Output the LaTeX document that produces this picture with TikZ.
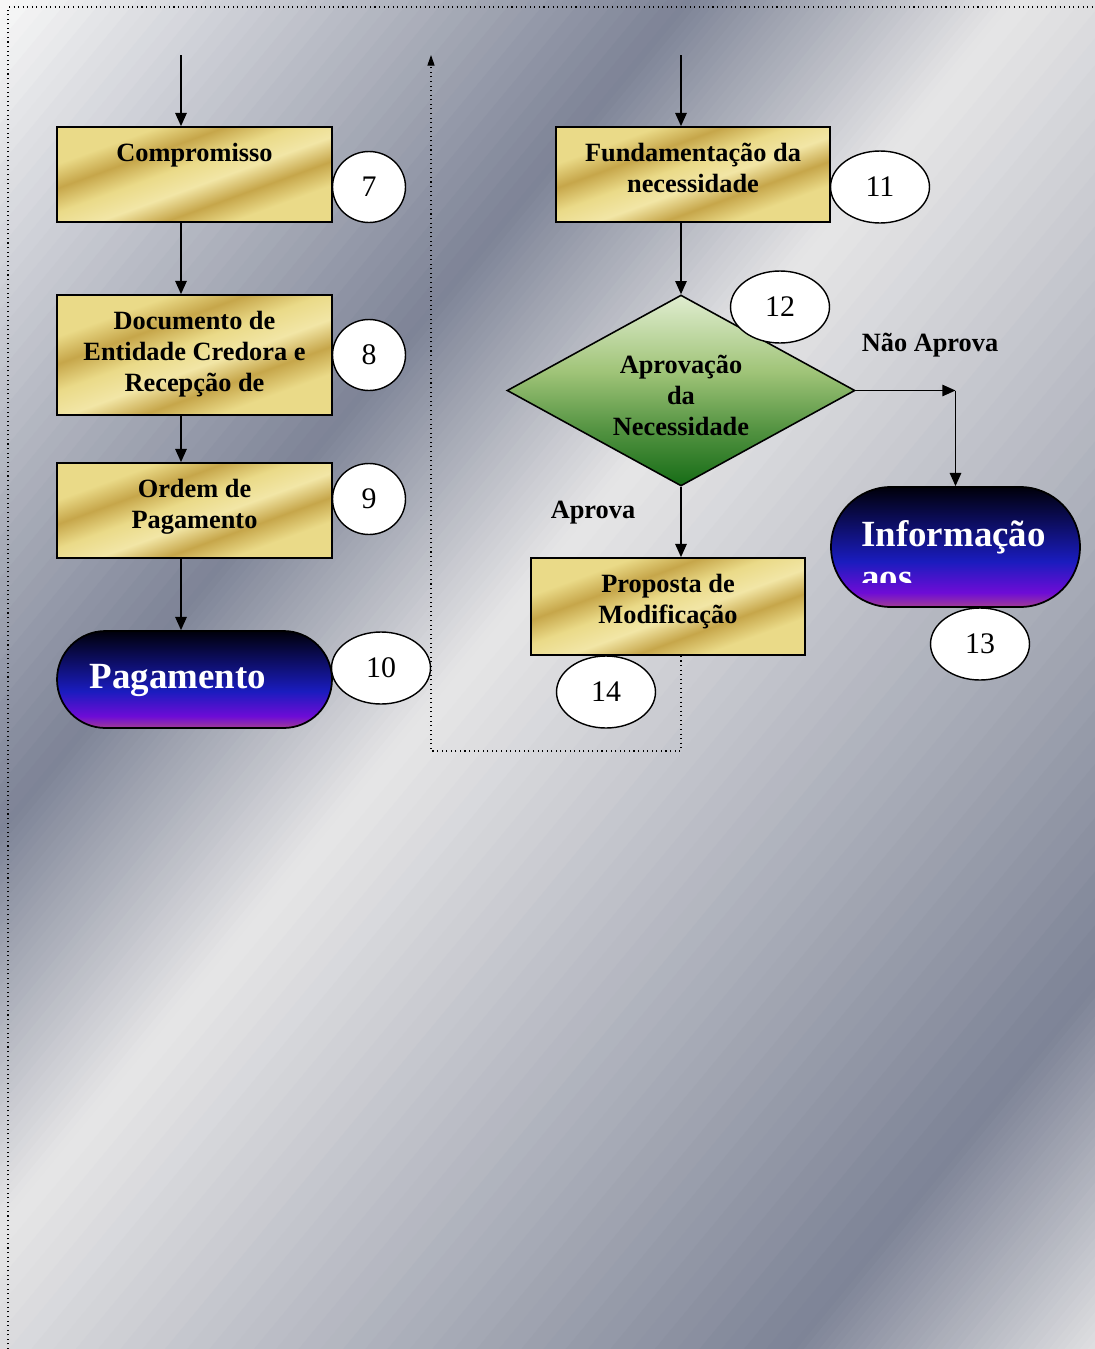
\documentclass[tikz,border=0pt]{standalone}
\usepackage{fontspec}
\setmainfont{Liberation Serif}
\usetikzlibrary{shapes.geometric,shapes.misc,arrows.meta,positioning}

\definecolor{bgwhite}{RGB}{248,248,248}
\definecolor{bgdark}{RGB}{125,131,150}
\definecolor{bglight}{RGB}{230,230,231}
\definecolor{bgend}{RGB}{224,224,226}
\definecolor{golddark}{RGB}{198,166,74}
\definecolor{goldlight}{RGB}{234,218,136}
\definecolor{goldpale}{RGB}{242,230,166}
\definecolor{navytop}{RGB}{0,0,10}
\definecolor{navymid}{RGB}{26,28,190}
\definecolor{navypurple}{RGB}{110,12,214}
\definecolor{navymag}{RGB}{160,60,150}
\definecolor{greenlight}{RGB}{224,237,208}
\definecolor{greenmid}{RGB}{160,196,120}
\definecolor{greendark}{RGB}{22,108,22}

\pgfdeclarehorizontalshading{goldbar}{100bp}{color(0bp)=(goldlight); color(30bp)=(goldlight);
  color(38bp)=(golddark); color(46bp)=(goldpale); color(54bp)=(goldlight);
  color(62bp)=(golddark); color(70bp)=(goldlight); color(100bp)=(goldlight)}
\pgfdeclareverticalshading{navyfill}{100bp}{color(0bp)=(navymag); color(25bp)=(navymag);
  color(31bp)=(navypurple); color(44bp)=(navymid); color(75bp)=(navytop); color(100bp)=(navytop)}
\pgfdeclareverticalshading{greenfill}{100bp}{color(0bp)=(greendark); color(25bp)=(greendark);
  color(40bp)=(greendark!55!greenmid); color(55bp)=(greenmid); color(75bp)=(greenlight);
  color(100bp)=(greenlight)}

\begin{document}
\begin{tikzpicture}[x=0.02cm, y=-0.02cm,
  goldbox/.style={draw=black, line width=1pt, shade, shading=goldbar, shading angle=110,
                  minimum width=5.5cm, minimum height=1.9cm, inner sep=0pt},
  boxtxt/.style={font=\bfseries\fontsize{15}{17.6}\selectfont, align=center, inner sep=0pt},
  numcirc/.style={ellipse, draw=black, line width=0.8pt, fill=white, inner sep=0pt,
                  minimum width=1.46cm, minimum height=1.42cm, font=\fontsize{17}{20}\selectfont},
  numoval/.style={numcirc, minimum width=1.98cm, minimum height=1.44cm},
  pill/.style={rounded rectangle, draw=black, line width=1pt, shade, shading=navyfill, inner sep=0pt},
  pilltxt/.style={text=white, font=\bfseries\fontsize{21}{24}\selectfont, inner sep=0pt},
  decision/.style={diamond, aspect=1.82, draw=black, line width=0.9pt, shade, shading=greenfill,
                   minimum width=6.96cm, minimum height=3.82cm, inner sep=0pt, align=center,
                   font=\bfseries\fontsize{15}{17.4}\selectfont},
  flowlbl/.style={font=\bfseries\fontsize{15}{17.6}\selectfont, inner sep=0pt},
  arr/.style={-{Triangle[length=7.5pt,width=6.5pt]}, line width=0.85pt},
  dotarr/.style={dotted, line width=0.6pt, -{Triangle[length=6pt,width=4pt]}}
]
\useasboundingbox (0,0) rectangle (1095,1349);

% metallic background
\begin{scope}
\clip (0,0) rectangle (1095,1349);
\begin{scope}[x=0.02cm, y=0.02cm, rotate=-39.64]
\foreach \da/\db/\ca/\cb in {0/527/bgwhite/bgdark, 527/782/bgdark/bglight,
                              782/1468/bglight/bgdark, 1468/1704/bgdark/bgend}{
  \foreach \i in {0,...,39}{
    \pgfmathsetmacro\xa{\da+(\db-\da)/40*\i}
    \pgfmathsetmacro\xb{\da+(\db-\da)/40*(\i+1)+1.5}
    \pgfmathtruncatemacro\pc{(\i+0.5)*2.5}
    \fill[\cb!\pc!\ca] (\xa,-1045) rectangle (\xb,705);
  }
}
\end{scope}
\end{scope}
\draw[dotted, line width=0.6pt] (8,1349) -- (8,7) -- (1095,7);

% left column
\node[goldbox] (comp) at (194.5,174.5) {};
\node[boxtxt, below=9.5pt of comp.north] (compT) {Compromisso};
\node[goldbox, minimum height=2.4cm] (doc) at (194.5,355) {};
\node[boxtxt, below=9.5pt of doc.north] (docT) {Documento de\\Entidade Credora e\\Recepção de};
\node[goldbox] (ord) at (194.5,510.5) {};
\node[boxtxt, below=9.5pt of ord.north] (ordT) {Ordem de\\Pagamento};
\node[pill, minimum width=5.5cm, minimum height=1.94cm] (pag) at (194.5,679.5) {};
\node[pilltxt, anchor=base] (pagT) at (178,688) {Pagamento};

\node[numcirc] (n7) at (369,187) {7};
\node[numcirc] (n8) at (369,355) {8};
\node[numcirc] (n9) at (369,499) {9};
\node[numoval] (n10) at (381,668) {10};

% right column
\node[goldbox, minimum width=5.48cm] (fund) at (693,174.5) {};
\node[boxtxt, below=9.5pt of fund.north] (fundT) {Fundamentação da\\necessidade};
\node[decision] (diam) at (681,390.5) {\rule{0pt}{16pt}Aprovação\\da\\Necessidade};
\node[goldbox, minimum width=5.48cm, minimum height=1.94cm] (prop) at (668,606.5) {};
\node[boxtxt, below=9.5pt of prop.north] (propT) {Proposta de\\Modificação};
\node[pill, minimum width=4.98cm, minimum height=2.4cm] (info) at (955.5,547) {};
\begin{scope}
\clip (831,487) rectangle (1080,582);
\node[pilltxt, align=left, anchor=north west] (infoT) at (861,520.5) {Informação\\aos};
\end{scope}

\node[numoval] (n11) at (880,187) {11};
\node[numoval] (n12) at (780,307) {12};
\node[numoval] (n13) at (980,644) {13};
\node[numoval] (n14) at (606,692) {14};

\node[flowlbl] (noLbl) at (930,345) {Não Aprova};
\node[flowlbl] (yesLbl) at (593,513) {Aprova};

\coordinate (inL) at (181,55);
\coordinate (inR) at (681,55);
\coordinate (outTop) at (431,55);
\coordinate (loopR) at (681,751);
\coordinate (loopL) at (431,751);

% connectors
\draw[arr] (inL) -- (inL |- comp.north);
\draw[arr] (inL |- comp.south) -- (inL |- doc.north);
\draw[arr] (inL |- doc.south) -- (inL |- ord.north);
\draw[arr] (inL |- ord.south) -- (inL |- pag.north);
\draw[arr] (inR) -- (inR |- fund.north);
\draw[arr] (inR |- fund.south) -- (diam.north);
\draw[arr] (diam.south) -- (diam.south |- prop.north);
\draw[arr] (diam.east) -- (diam.east -| info.north);
\draw[arr] (diam.east -| info.north) -- (info.north);
\draw[dotarr] (loopR |- prop.south) -- (loopR) -- (loopL) -- (outTop);
\end{tikzpicture}
\end{document}
